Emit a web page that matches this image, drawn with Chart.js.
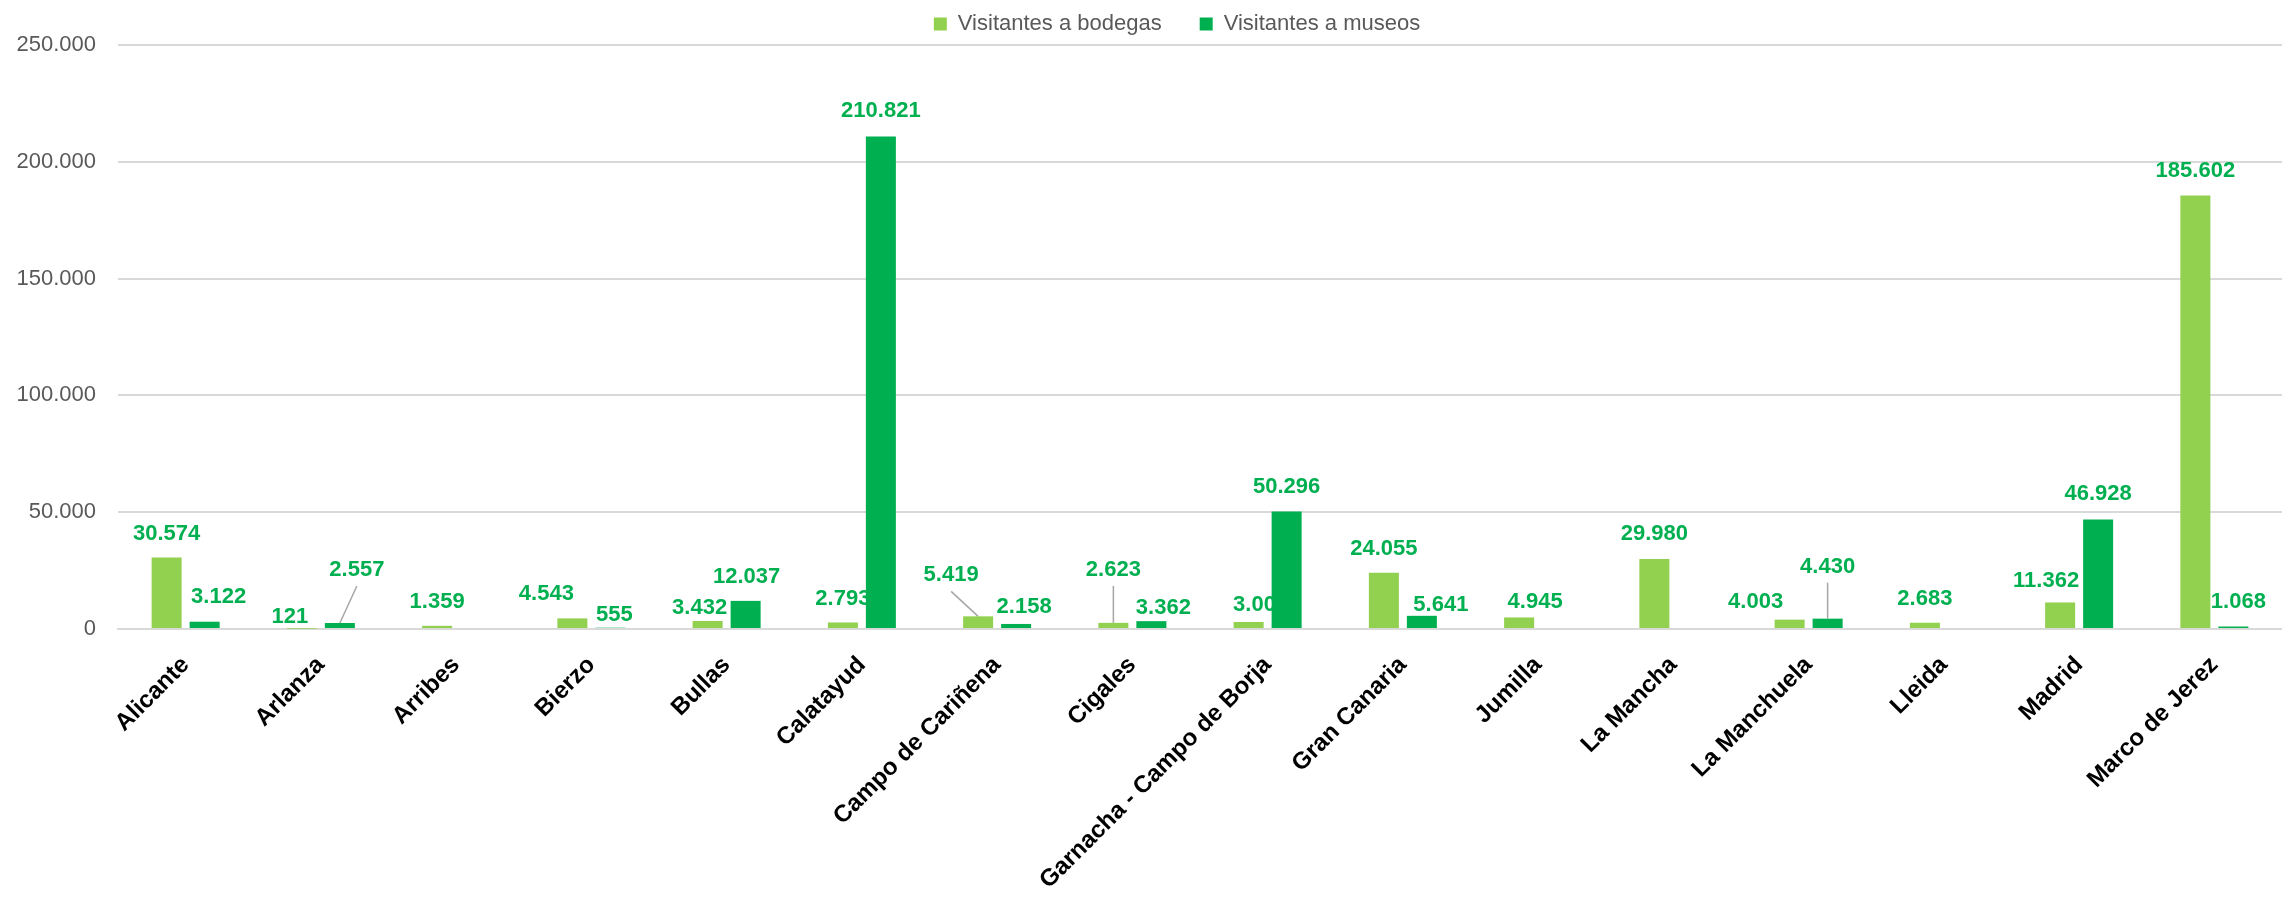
<!DOCTYPE html>
<html><head><meta charset="utf-8">
<script src="https://cdn.jsdelivr.net/npm/chart.js@4/dist/chart.umd.min.js"></script>
<style>html,body{margin:0;padding:0;background:#fff;overflow:hidden}</style>
</head><body>
<canvas id="c" width="2282" height="899"></canvas>
<script>
const categories = ["Alicante","Arlanza","Arribes","Bierzo","Bullas","Calatayud","Campo de Cariñena","Cigales","Garnacha - Campo de Borja","Gran Canaria","Jumilla","La Mancha","La Manchuela","Lleida","Madrid","Marco de Jerez"];
const seriesNames = ["Visitantes a bodegas","Visitantes a museos"];
const visitantesBodegas = [30574,121,1359,4543,3432,2793,5419,2623,3004,24055,4945,29980,4003,2683,11362,185602];
const visitantesMuseos = [3122,2557,null,555,12037,210821,2158,3362,50296,5641,null,null,4430,null,46928,1068];
const yTicks = [0,50000,100000,150000,200000,250000];

// data-label nudges (px): horizontal shift, height above bar top, leader line flag
const bodegasLabelDx = [0,-12,0,-26,-8,0,-27,0,12,0,16,0,-34,0,-14,0];
const bodegasLabelUp = [24,12,24,24,13,24,41,53,17,24,16,25,18,24,22,24];
const bodegasLeader  = [0,0,0,0,0,0,1,1,0,0,0,0,0,0,0,0];
const museosLabelDx = [14,17,0,4,1,0,8,12,0,19,0,0,0,0,0,5];
const museosLabelUp = [25,53,24,13,24,26,17,13,25,11,24,24,52,24,25,25];
const museosLeader  = [0,1,0,0,0,0,0,0,0,0,0,0,1,0,0,0];

const FONT = '"Liberation Sans", Arial, sans-serif';
const fmt = n => String(n).replace(/\B(?=(\d{3})+(?!\d))/g, '.');

function drawLabels(chart, dsIndex, dx, up, leader) {
  const meta = chart.getDatasetMeta(dsIndex);
  const data = chart.data.datasets[dsIndex].data;
  const ctx = chart.ctx;
  ctx.save();
  ctx.font = 'bold 22px ' + FONT;
  ctx.textAlign = 'center';
  ctx.textBaseline = 'middle';
  meta.data.forEach((bar, i) => {
    const v = data[i];
    if (v === null || v === undefined) return;
    const lx = bar.x + dx[i];
    const ly = bar.y - up[i];
    if (leader[i]) {
      ctx.strokeStyle = '#A6A6A6';
      ctx.lineWidth = 1.5;
      ctx.beginPath();
      ctx.moveTo(bar.x, bar.y);
      ctx.lineTo(lx, ly + 16);
      ctx.stroke();
    }
    ctx.fillStyle = '#00B050';
    ctx.fillText(fmt(v), lx, ly);
  });
  ctx.restore();
}

const labelsPlugin = {
  id: 'barLabels',
  afterLayout(chart) {
    // centre the legend a little right of the canvas centre, as in the original
    if (chart.legend) { chart.legend.left += 72; }
  },
  beforeDatasetsDraw(chart) {
    drawLabels(chart, 0, bodegasLabelDx, bodegasLabelUp, bodegasLeader);
  },
  afterDatasetsDraw(chart) {
    drawLabels(chart, 1, museosLabelDx, museosLabelUp, museosLeader);
  }
};

new Chart(document.getElementById('c'), {
  type: 'bar',
  data: {
    labels: categories,
    datasets: [
      { label: seriesNames[0], data: visitantesBodegas, backgroundColor: '#92D050', borderWidth: 0,
        categoryPercentage: 0.562, barPercentage: 0.79 },
      { label: seriesNames[1], data: visitantesMuseos, backgroundColor: '#00B050', borderWidth: 0,
        categoryPercentage: 0.562, barPercentage: 0.79 }
    ]
  },
  options: {
    responsive: false,
    animation: false,
    devicePixelRatio: 1,
    layout: { padding: { top: -25, left: 0, right: 0, bottom: 0 } },
    plugins: {
      legend: {
        position: 'top',
        align: 'center',
        labels: {
          boxWidth: 13, boxHeight: 13, padding: 38,
          color: '#595959',
          font: { family: FONT, size: 22 }
        }
      },
      tooltip: { enabled: false },
      title: { display: false }
    },
    scales: {
      x: {
        grid: { display: false, drawTicks: false },
        border: { display: true, color: '#D9D9D9', width: 2 },
        ticks: {
          autoSkip: false, maxRotation: 45, minRotation: 45, padding: 22,
          color: '#000000',
          font: { family: FONT, size: 24, weight: 'bold' }
        },
        afterFit(s) { s.height = 270; s.paddingLeft = 0; s.paddingRight = 0; }
      },
      y: {
        min: 0, max: 250000,
        grid: { color: '#D9D9D9', lineWidth: 2, drawTicks: false },
        border: { display: false },
        ticks: {
          padding: 22, color: '#595959',
          font: { family: FONT, size: 22 },
          callback: v => fmt(v)
        },
        afterBuildTicks(s) { s.ticks = yTicks.map(v => ({ value: v })); },
        afterFit(s) { s.width = 118; }
      }
    }
  },
  plugins: [labelsPlugin]
});
</script>
</body></html>
